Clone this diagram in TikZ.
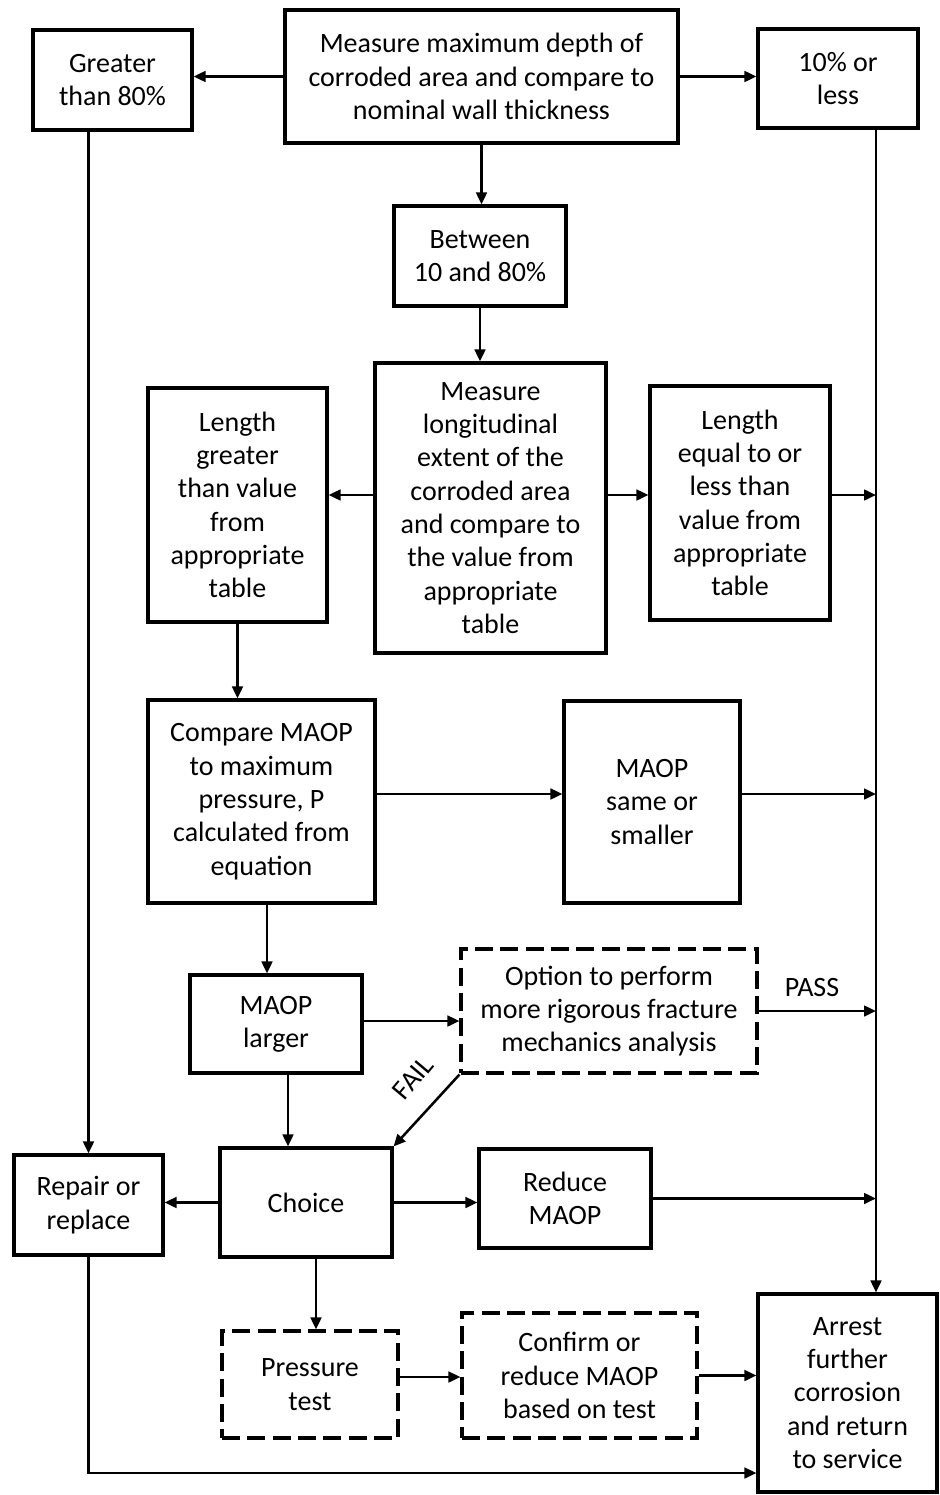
\documentclass[tikz,border=0pt]{standalone}
\usepackage{fontspec}
\setmainfont{Carlito}
\usetikzlibrary{arrows.meta}
\begin{document}
\begin{tikzpicture}[x=0.75pt,y=-0.75pt,
  every node/.style={font=\fontsize{21}{25}\selectfont},
  box/.style={draw, line width=2.3pt, inner sep=0pt, align=center},
  dbox/.style={box, dash pattern=on 13.5pt off 5.5pt},
  arr/.style={line width=1.9pt, -{Triangle[length=9pt,width=8pt]}},
  ln/.style={line width=1.9pt}]
\useasboundingbox (0,0) rectangle (939,1495);
\fill[white] (0,0) rectangle (939,1495);
\def\px{0.75pt}
% nodes
\node[box, minimum width=393*\px, minimum height=133*\px] (top) at (481.5,76.5) {Measure maximum depth of\\corroded area and compare to\\nominal wall thickness};
\node[box, minimum width=159*\px, minimum height=100*\px] (greater) at (112.5,80) {Greater\\than 80\%};
\node[box, minimum width=160*\px, minimum height=99*\px] (tenpct) at (838,78.5) {10\% or\\less};
\node[box, minimum width=172*\px, minimum height=100*\px] (between) at (480,256) {Between\\10 and 80\%};
\node[box, minimum width=231*\px, minimum height=290*\px] (mlong) at (490.5,508) {Measure\\longitudinal\\extent of the\\corroded area\\and compare to\\the value from\\appropriate\\table};
\node[box, minimum width=179*\px, minimum height=234*\px] (lgreat) at (237.5,505) {Length\\greater\\than value\\from\\appropriate\\table};
\node[box, minimum width=180*\px, minimum height=234*\px] (lequal) at (740,503) {Length\\equal to or\\less than\\value from\\appropriate\\table};
\node[box, minimum width=227*\px, minimum height=203*\px] (compare) at (261.5,801.5) {Compare MAOP\\to maximum\\pressure, P\\calculated from\\equation};
\node[box, minimum width=176*\px, minimum height=202*\px] (msame) at (652,802) {MAOP\\same or\\smaller};
\node[box, minimum width=172*\px, minimum height=98*\px] (mlarger) at (276,1024) {MAOP\\larger};
\node[dbox, minimum width=296*\px, minimum height=124*\px] (option) at (609,1011) {Option to perform\\more rigorous fracture\\mechanics analysis};
\node[box, minimum width=149*\px, minimum height=100*\px] (repair) at (88.5,1205) {Repair or\\replace};
\node[box, minimum width=172*\px, minimum height=109*\px] (choice) at (306,1202.5) {Choice};
\node[box, minimum width=172*\px, minimum height=99*\px] (reduce) at (565,1198.5) {Reduce\\MAOP};
\node[dbox, minimum width=176*\px, minimum height=107*\px] (ptest) at (310,1384.5) {Pressure\\test};
\node[dbox, minimum width=235*\px, minimum height=125*\px] (confirm) at (579.5,1375.5) {Confirm or\\reduce MAOP\\based on test};
\node[box, minimum width=179*\px, minimum height=198*\px] (arrest) at (847.5,1393) {Arrest\\further\\corrosion\\and return\\to service};
% labels
\node[rotate=50] (fail) at (413,1078) {FAIL};
\node (pass) at (812,987) {PASS};
% helper coordinates
\coordinate (rl) at (876,0);
\coordinate (yA) at (0,495);
\coordinate (yC) at (0,794);
\coordinate (yD) at (0,1021);
\coordinate (yE) at (0,1377);
\coordinate (yJ) at (0,1473);
\coordinate (xF) at (267,0);
\coordinate (xG) at (288,0);
\coordinate (xH) at (316,0);
% connectors
\draw[arr] (top.west) -- (top.west -| greater.east);
\draw[arr] (top.east) -- (top.east -| tenpct.west);
\draw[arr] (top.south) -- (top.south |- between.north);
\draw[arr] (between.south) -- (between.south |- mlong.north);
\draw[arr] (mlong.west |- yA) -- (lgreat.east |- yA);
\draw[arr] (mlong.east |- yA) -- (lequal.west |- yA);
\draw[arr] (lequal.east |- yA) -- (rl |- yA);
\draw[arr] (lgreat.south) -- (lgreat.south |- compare.north);
\draw[arr] (compare.east |- yC) -- (msame.west |- yC);
\draw[arr] (msame.east |- yC) -- (rl |- yC);
\draw[arr] (compare.south -| xF) -- (mlarger.north -| xF);
\draw[arr] (mlarger.east |- yD) -- (option.west |- yD);
\draw[arr] (option.east) -- (option.east -| rl);
\draw[arr] (option.south west) -- (choice.north east);
\draw[arr] (mlarger.south -| xG) -- (choice.north -| xG);
\draw[arr] (choice.west) -- (choice.west -| repair.east);
\draw[arr] (choice.east) -- (choice.east -| reduce.west);
\draw[arr] (reduce.east) -- (reduce.east -| rl);
\draw[arr] (choice.south -| xH) -- (ptest.north -| xH);
\draw[arr] (ptest.east |- yE) -- (confirm.west |- yE);
\draw[arr] (confirm.east) -- (confirm.east -| arrest.west);
\draw[arr] (greater.south -| repair.north) -- (repair.north);
\draw[arr] (tenpct.south -| rl) -- (arrest.north -| rl);
\draw[arr] (repair.south) -- (repair.south |- yJ) -- (arrest.west |- yJ);
\end{tikzpicture}
\end{document}
